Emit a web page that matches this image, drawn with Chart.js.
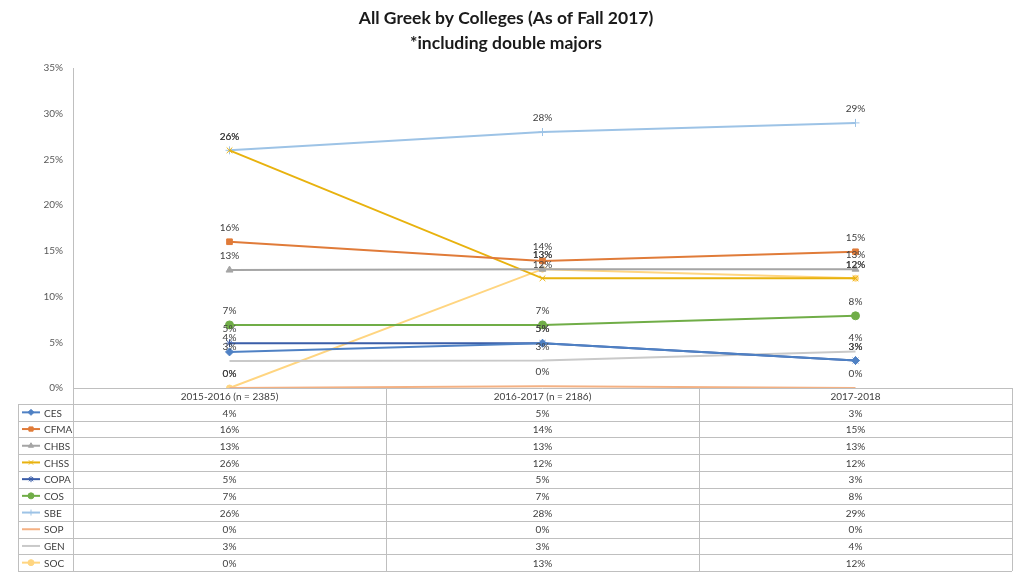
<!DOCTYPE html>
<html>
<head>
<meta charset="utf-8">
<script src="https://cdn.jsdelivr.net/npm/chart.js@4"></script>
<style>
  html, body { margin: 0; padding: 0; background: #fff; }
  #wrap { width: 1024px; height: 576px; position: relative; }
</style>
</head>
<body>
<div id="wrap"><canvas id="greekChart" width="1024" height="576"></canvas></div>
<script>
// categories (school years)
const years = ['2015-2016 (n = 2385)', '2016-2017 (n = 2186)', '2017-2018'];

// share of Greek members by college, in percent
const ces  = [3.95, 4.9, 3.0];
const cfma = [16.0, 13.9, 14.9];
const chbs = [12.9, 13.0, 13.0];
const chss = [26.0, 12.0, 12.0];
const copa = [4.9, 4.9, 3.0];
const cos  = [6.9, 6.9, 7.9];
const sbe  = [26.0, 28.0, 29.0];
const sop  = [0.0, 0.2, 0.0];
const gen  = [2.96, 3.0, 4.0];
const soc  = [0.0, 13.0, 12.0];

const yTicks = [0, 5, 10, 15, 20, 25, 30, 35];

const FONT = 'Lato, "Open Sans", sans-serif';

const series = [
    { label: 'CES',  data: ces,  color: '#4F81C4', pointStyle: 'rectRot',  radius: 4 },
    { label: 'CFMA', data: cfma, color: '#E07B39', pointStyle: 'rect',     radius: 4 },
    { label: 'CHBS', data: chbs, color: '#A5A5A5', pointStyle: 'triangle', radius: 4 },
    { label: 'CHSS', data: chss, color: '#E8B20E', pointStyle: 'crossRot', radius: 4 },
    { label: 'COPA', data: copa, color: '#3A5DA8', pointStyle: 'star',     radius: 4 },
    { label: 'COS',  data: cos,  color: '#70AD47', pointStyle: 'circle',   radius: 4 },
    { label: 'SBE',  data: sbe,  color: '#9DC3E6', pointStyle: 'cross',    radius: 4 },
    { label: 'SOP',  data: sop,  color: '#F4B183', pointStyle: 'circle',   radius: 0 },
    { label: 'GEN',  data: gen,  color: '#C9C9C9', pointStyle: 'line',     radius: 0 },
    { label: 'SOC',  data: soc,  color: '#FFD580', pointStyle: 'circle',   radius: 3 }
];

// value labels above each point, like the spreadsheet data labels
const pointLabels = {
    id: 'pointLabels',
    afterDatasetsDraw(chart) {
        const ctx = chart.ctx;
        ctx.save();
        ctx.font = '10px ' + FONT;
        ctx.fillStyle = '#404040';
        ctx.textAlign = 'center';
        ctx.textBaseline = 'middle';
        chart.data.datasets.forEach((ds, i) => {
            const meta = chart.getDatasetMeta(i);
            meta.data.forEach((pt, j) => {
                ctx.fillText(Math.round(ds.data[j]) + '%', pt.x, pt.y - 14);
            });
        });
        ctx.restore();
    }
};

// data table under the plot
const dataTable = {
    id: 'dataTable',
    afterDraw(chart) {
        const ctx = chart.ctx;
        const area = chart.chartArea;
        const xs = chart.scales.x;
        const colW = (area.right - area.left) / years.length;
        const top = area.bottom;
        const headH = 16;
        const rowH = 16.7;
        const legLeft = 18;
        const bottom = top + headH + rowH * series.length;

        ctx.save();
        ctx.strokeStyle = '#BFBFBF';
        ctx.lineWidth = 1;

        // axis / table top line
        ctx.beginPath();
        ctx.moveTo(area.left, top + 0.5);
        ctx.lineTo(area.right, top + 0.5);
        ctx.stroke();

        // vertical lines
        for (let c = 0; c <= years.length; c++) {
            const x = Math.round(area.left + c * colW) + 0.5;
            ctx.beginPath();
            ctx.moveTo(x, top);
            ctx.lineTo(x, bottom);
            ctx.stroke();
        }
        ctx.beginPath();
        ctx.moveTo(legLeft + 0.5, top + headH);
        ctx.lineTo(legLeft + 0.5, bottom);
        ctx.stroke();

        // horizontal lines
        for (let r = 0; r <= series.length; r++) {
            const y = Math.round(top + headH + r * rowH) + 0.5;
            ctx.beginPath();
            ctx.moveTo(legLeft, y);
            ctx.lineTo(area.right, y);
            ctx.stroke();
        }

        ctx.font = '10px ' + FONT;
        ctx.fillStyle = '#404040';
        ctx.textBaseline = 'middle';
        ctx.textAlign = 'center';
        years.forEach((y, c) => {
            ctx.fillText(y, xs.getPixelForValue(c), top + headH / 2 + 1);
        });

        series.forEach((s, r) => {
            const cy = top + headH + rowH * r + rowH / 2;
            // legend key
            ctx.strokeStyle = s.color;
            ctx.lineWidth = 2;
            ctx.beginPath();
            ctx.moveTo(22, cy);
            ctx.lineTo(40, cy);
            ctx.stroke();
            if (s.radius > 0) {
                ctx.fillStyle = s.color;
                ctx.lineWidth = 1;
                Chart.helpers.drawPoint(ctx, {
                    pointStyle: s.pointStyle, radius: 3, borderWidth: 1
                }, 31, cy);
            }
            ctx.fillStyle = '#404040';
            ctx.textAlign = 'left';
            ctx.fillText(s.label, 44, cy + 1);
            ctx.textAlign = 'center';
            s.data.forEach((v, c) => {
                ctx.fillText(Math.round(v) + '%', xs.getPixelForValue(c), cy + 1);
            });
        });
        ctx.restore();
    }
};

new Chart(document.getElementById('greekChart').getContext('2d'), {
    type: 'line',
    data: {
        labels: years,
        datasets: series.map(s => ({
            label: s.label,
            data: s.data,
            borderColor: s.color,
            backgroundColor: s.color,
            borderWidth: 2,
            pointStyle: s.pointStyle,
            pointRadius: s.radius,
            pointBorderWidth: 1,
            tension: 0
        }))
    },
    options: {
        responsive: false,
        animation: false,
        layout: { padding: { left: 0, right: 12, top: 0, bottom: 188 } },
        scales: {
            x: {
                display: false,
                offset: true
            },
            y: {
                min: 0,
                max: 35,
                afterFit(scale) { scale.width = 73; },
                afterBuildTicks(scale) { scale.ticks = yTicks.map(v => ({ value: v })); },
                grid: { display: false, drawTicks: false },
                border: { display: true, color: '#BFBFBF', width: 1 },
                ticks: {
                    padding: 10,
                    color: '#595959',
                    font: { size: 10, family: FONT },
                    callback: v => v + '%'
                }
            }
        },
        plugins: {
            legend: { display: false },
            tooltip: { enabled: false },
            title: {
                display: true,
                text: ['All Greek by Colleges (As of Fall 2017)', '*including double majors'],
                color: '#1a1a1a',
                font: { size: 17.5, weight: 'bold', family: FONT, lineHeight: 1.43 },
                padding: { top: 6, bottom: 12 }
            }
        }
    },
    plugins: [pointLabels, dataTable]
});
</script>
</body>
</html>
